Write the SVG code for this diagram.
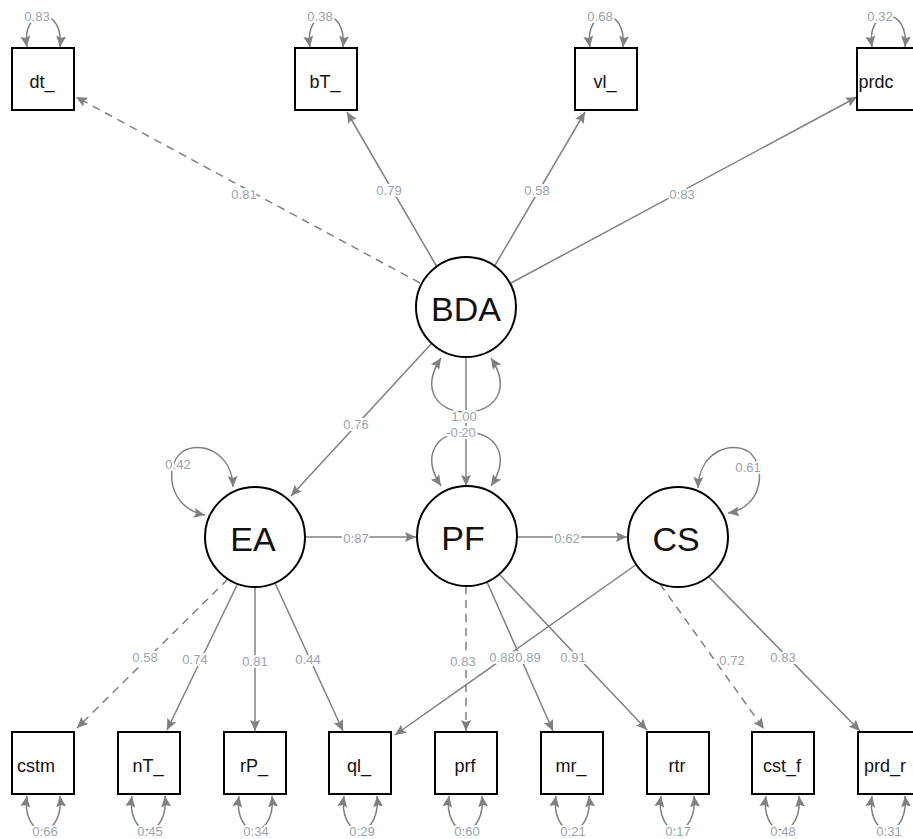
<svg xmlns="http://www.w3.org/2000/svg" width="913" height="839" viewBox="0 0 913 839">
<defs>
<marker id="ah" markerUnits="userSpaceOnUse" markerWidth="12" markerHeight="10" refX="11" refY="5" orient="auto-start-reverse">
<path d="M0,0 L11,5 L0,10 L2,5 z" fill="#808080"/>
</marker>
<style>
.e{fill:none;stroke:#808080;stroke-width:1.5;marker-end:url(#ah)}
.d{stroke-dasharray:8 6}
.lp{fill:none;stroke:#808080;stroke-width:1.5;marker-start:url(#ah);marker-end:url(#ah)}
.lb{font-family:"Liberation Sans",Arial,sans-serif;font-size:13px;fill:#9aa2ac;text-anchor:middle;dominant-baseline:central;stroke:#fff;stroke-width:4px;paint-order:stroke}
.bx{fill:#fff;stroke:#000;stroke-width:2}
.bt{font-family:"Liberation Sans",Arial,sans-serif;font-size:18px;fill:#111;text-anchor:middle;dominant-baseline:central}
.ci{fill:#fff;stroke:#000;stroke-width:2}
.ct{font-family:"Liberation Sans",Arial,sans-serif;font-size:34px;fill:#111;text-anchor:middle;dominant-baseline:central}
</style>
</defs>
<rect width="913" height="839" fill="#fff"/>
<g id="connectors">
<path class="e d" d="M420,283 L76,97"/>
<path class="e" d="M437,267 L347,112"/>
<path class="e" d="M494,267 L585,112"/>
<path class="e" d="M511,283 L857,97"/>
<path class="e" d="M432,343 L291,496"/>
<path class="e" d="M466,357 L466,486"/>
<path class="e" d="M305,537 L416,537"/>
<path class="e" d="M517,537 L627,537"/>
<path class="e d" d="M228,579 L77,728"/>
<path class="e" d="M238,583 L167,730"/>
<path class="e" d="M255,587 L255,731"/>
<path class="e" d="M275,583 L343,731"/>
<path class="e" d="M637,564 L395,735"/>
<path class="e d" d="M466,586 L466,731"/>
<path class="e" d="M487,582 L553,731"/>
<path class="e" d="M500,575 L647,730"/>
<path class="e d" d="M660,584 L764,729"/>
<path class="e" d="M708,576 L860,731"/>
<path class="lp" d="M441,358 C420,390 438,412 466,412 C494,412 512,390 491,358"/>
<path class="lp" d="M441,486 C420,454 438,432 466,432 C494,432 512,454 491,486"/>
<path class="lp" d="M233,487 C232,452 200,440 182,452 C164,466 168,508 205,515"/>
<path class="lp" d="M698,488 C699,452 731,440 749,452 C767,466 763,508 728,513"/>
<path class="lp" d="M27,47 C24,28 32,16 43,16 C54,16 62,28 60,47"/>
<path class="lp" d="M310,47 C307,28 315,16 326,16 C337,16 345,28 343,47"/>
<path class="lp" d="M590,47 C587,28 595,16 606,16 C617,16 625,28 623,47"/>
<path class="lp" d="M872,47 C869,28 877,16 888,16 C899,16 907,28 905,47"/>
<path class="lp" d="M27,796 C24,815 32,830 43,830 C54,830 62,815 60,796"/>
<path class="lp" d="M132,796 C129,815 137,830 148,830 C159,830 167,815 165,796"/>
<path class="lp" d="M239,796 C236,815 244,830 255,830 C266,830 274,815 272,796"/>
<path class="lp" d="M344,796 C341,815 349,830 360,830 C371,830 379,815 377,796"/>
<path class="lp" d="M449,796 C446,815 454,830 465,830 C476,830 484,815 482,796"/>
<path class="lp" d="M556,796 C553,815 561,830 572,830 C583,830 591,815 589,796"/>
<path class="lp" d="M661,796 C658,815 666,830 677,830 C688,830 696,815 694,796"/>
<path class="lp" d="M766,796 C763,815 771,830 782,830 C793,830 801,815 799,796"/>
<path class="lp" d="M872,796 C869,815 877,830 888,830 C899,830 907,815 905,796"/>
</g>
<g id="labels">
<text class="lb" x="244" y="194">0.81</text>
<text class="lb" x="389" y="190">0.79</text>
<text class="lb" x="537" y="190">0.58</text>
<text class="lb" x="682" y="194">0.83</text>
<text class="lb" x="356" y="424">0.76</text>
<text class="lb" x="464" y="416">1.00</text>
<text class="lb" x="461" y="432">-0.20</text>
<text class="lb" x="178" y="464">0.42</text>
<text class="lb" x="748" y="467">0.61</text>
<text class="lb" x="356" y="538">0.87</text>
<text class="lb" x="567" y="538">0.62</text>
<text class="lb" x="145" y="657">0.58</text>
<text class="lb" x="195" y="659">0.74</text>
<text class="lb" x="255" y="661">0.81</text>
<text class="lb" x="308" y="659">0.44</text>
<text class="lb" x="463" y="661">0.83</text>
<text class="lb" x="502" y="657">0.88</text>
<text class="lb" x="528" y="657">0.89</text>
<text class="lb" x="573" y="657">0.91</text>
<text class="lb" x="732" y="660">0.72</text>
<text class="lb" x="783" y="657">0.83</text>
<text class="lb" x="37" y="16">0.83</text>
<text class="lb" x="320" y="16">0.38</text>
<text class="lb" x="600" y="16">0.68</text>
<text class="lb" x="880" y="16">0.32</text>
<text class="lb" x="45" y="831">0.66</text>
<text class="lb" x="150" y="831">0.45</text>
<text class="lb" x="256" y="831">0.34</text>
<text class="lb" x="362" y="831">0.29</text>
<text class="lb" x="467" y="831">0.60</text>
<text class="lb" x="573" y="831">0.21</text>
<text class="lb" x="678" y="831">0.17</text>
<text class="lb" x="783" y="831">0.48</text>
<text class="lb" x="889" y="831">0.31</text>
</g>
<g id="dt_"><rect class="bx" x="12" y="48" width="62" height="62"/><text class="bt" x="42" y="82">dt_</text></g>
<g id="bT_"><rect class="bx" x="295" y="48" width="62" height="62"/><text class="bt" x="325" y="82">bT_</text></g>
<g id="vl_"><rect class="bx" x="575" y="48" width="62" height="62"/><text class="bt" x="605" y="82">vl_</text></g>
<g id="prdc"><rect class="bx" x="857" y="48" width="62" height="62"/><text class="bt" x="876" y="82">prdc</text></g>
<g id="BDA"><circle class="ci" cx="466" cy="307" r="50"/><text class="ct" x="466" y="309">BDA</text></g>
<g id="EA"><circle class="ci" cx="255" cy="537" r="50"/><text class="ct" x="253" y="539">EA</text></g>
<g id="PF"><circle class="ci" cx="467" cy="536" r="50"/><text class="ct" x="463" y="538">PF</text></g>
<g id="CS"><circle class="ci" cx="678" cy="537" r="50"/><text class="ct" x="676" y="539">CS</text></g>
<g id="cstm"><rect class="bx" x="12" y="732" width="62" height="62"/><text class="bt" x="36" y="766">cstm</text></g>
<g id="nT_"><rect class="bx" x="118" y="732" width="62" height="62"/><text class="bt" x="148" y="766">nT_</text></g>
<g id="rP_"><rect class="bx" x="224" y="732" width="62" height="62"/><text class="bt" x="254" y="766">rP_</text></g>
<g id="ql_"><rect class="bx" x="329" y="732" width="62" height="62"/><text class="bt" x="359" y="766">ql_</text></g>
<g id="prf"><rect class="bx" x="435" y="732" width="62" height="62"/><text class="bt" x="465" y="766">prf</text></g>
<g id="mr_"><rect class="bx" x="541" y="732" width="62" height="62"/><text class="bt" x="571" y="766">mr_</text></g>
<g id="rtr"><rect class="bx" x="647" y="732" width="62" height="62"/><text class="bt" x="677" y="766">rtr</text></g>
<g id="cst_f"><rect class="bx" x="752" y="732" width="62" height="62"/><text class="bt" x="782" y="766">cst_f</text></g>
<g id="prd_r"><rect class="bx" x="858" y="732" width="62" height="62"/><text class="bt" x="885" y="766">prd_r</text></g>
</svg>
